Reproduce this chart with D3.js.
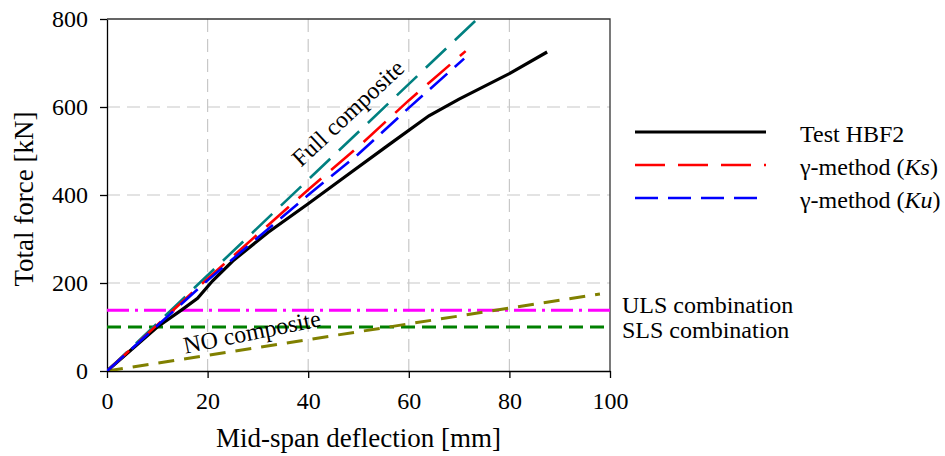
<!DOCTYPE html>
<html>
<head>
<meta charset="utf-8">
<script src="https://cdn.jsdelivr.net/npm/d3@7"></script>
<style>
body { margin: 0; background: #fff; }
</style>
</head>
<body>
<div id="chart-area"></div>
<script>
// values (deflection mm, force kN)
var testHBF2 = [[0, 0], [5, 50], [10, 100], [15, 140], [18, 165], [21, 205], [25, 250], [32, 315], [40, 380], [48, 447], [56, 514], [64, 580], [70, 618], [80, 676], [87.5, 725]];
var gammaKs = [[0, 0], [20, 210], [40, 412], [50, 510], [60, 615], [71.3, 727]];
var gammaKu = [[0, 0], [20, 206], [40, 400], [50, 493], [60, 598], [71, 710]];
var fullComposite = [[0, 0], [73.6, 800]];
var noComposite = [[0, 0], [98, 175]];
var ulsLoad = [[0, 138], [100, 138]];
var slsLoad = [[0, 100], [100, 100]];
var xTicks = [0, 20, 40, 60, 80, 100];
var yTicks = [0, 200, 400, 600, 800];
var legendNames = ["Test HBF2", "γ-method (", "γ-method ("];

var serif = '"Liberation Serif", "Times New Roman", Tinos, "DejaVu Serif", serif';

var margin = { top: 19, right: 335, bottom: 85, left: 107 };
var width = 945 - margin.left - margin.right;
var height = 456 - margin.top - margin.bottom;

var root = d3.select("#chart-area")
	.append("svg")
	.attr("width", 945)
	.attr("height", 456)
	.style("font-family", serif);

var svg = root.append("g")
	.attr("transform", "translate(" + margin.left + ", " + margin.top + ")");

var xScale = d3.scaleLinear().domain([0, 100]).range([0, width]);
var yScale = d3.scaleLinear().domain([0, 800]).range([height, 0]);

svg.append("clipPath").attr("id", "plot-clip")
	.append("rect").attr("width", width).attr("height", height);

// grid
svg.append("g").selectAll("line")
	.data(xTicks.filter(d => d > 0 && d < 100))
	.enter().append("line")
	.attr("x1", d => xScale(d)).attr("x2", d => xScale(d))
	.attr("y1", 0).attr("y2", height)
	.attr("stroke", "#c8c8c8").attr("stroke-width", 1.2)
	.attr("stroke-dasharray", "13,7");

svg.append("g").selectAll("line")
	.data(yTicks.filter(d => d > 0 && d < 800))
	.enter().append("line")
	.attr("x1", 0).attr("x2", width)
	.attr("y1", d => yScale(d)).attr("y2", d => yScale(d))
	.attr("stroke", "#c8c8c8").attr("stroke-width", 1.2)
	.attr("stroke-dasharray", "13,7");

// axes
var xAxisG = svg.append("g")
	.attr("transform", "translate(0," + height + ")")
	.call(d3.axisBottom(xScale).tickValues(xTicks).tickSize(7).tickSizeOuter(0).tickPadding(14));
var yAxisG = svg.append("g")
	.call(d3.axisLeft(yScale).tickValues(yTicks).tickSize(7).tickSizeOuter(0).tickPadding(12));

[xAxisG, yAxisG].forEach(g => {
	g.attr("font-family", null).attr("font-size", null);
	g.select(".domain").attr("stroke", "#000").attr("stroke-width", 1.3);
	g.selectAll(".tick line").attr("stroke", "#000").attr("stroke-width", 1.3);
	g.selectAll(".tick text").style("font-size", "24px")
		.style("font-family", serif).attr("fill", "#000");
});

// top and right border
svg.append("path")
	.attr("d", "M0,0H" + width + "V" + height)
	.attr("fill", "none").attr("stroke", "#333").attr("stroke-width", 1.3);

var line = d3.line().x(d => xScale(d[0])).y(d => yScale(d[1]));
var plot = svg.append("g").attr("clip-path", "url(#plot-clip)");

var series = [
	{ data: slsLoad, color: "#008000", width: 3, dash: "14,7" },
	{ data: ulsLoad, color: "#ff00ff", width: 3, dash: "22,6,3,6" },
	{ data: noComposite, color: "#808000", width: 3, dash: "16,10" },
	{ data: testHBF2, color: "#000000", width: 3.2, dash: null },
	{ data: fullComposite, color: "#008080", width: 2.6, dash: "28,12" },
	{ data: gammaKs, color: "#ff0000", width: 2.6, dash: "30,13" },
	{ data: gammaKu, color: "#0000ff", width: 2.6, dash: "23,10" }
];

plot.selectAll("path.series")
	.data(series)
	.enter().append("path")
	.attr("class", "series")
	.attr("d", d => line(d.data))
	.attr("fill", "none")
	.attr("stroke", d => d.color)
	.attr("stroke-width", d => d.width)
	.attr("stroke-dasharray", d => d.dash);

// annotations
svg.append("text")
	.attr("transform", "translate(" + (348 - margin.left) + "," + (113 - margin.top) + ") rotate(-43)")
	.attr("text-anchor", "middle").attr("dominant-baseline", "central")
	.style("font-size", "24px")
	.text("Full composite");

svg.append("text")
	.attr("transform", "translate(" + (252 - margin.left) + "," + (332 - margin.top) + ") rotate(-11.5)")
	.attr("text-anchor", "middle").attr("dominant-baseline", "central")
	.style("font-size", "24px")
	.text("NO composite");

root.append("text").attr("x", 622).attr("y", 313).style("font-size", "24px").text("ULS combination");
root.append("text").attr("x", 622).attr("y", 338).style("font-size", "24px").text("SLS combination");

// axis titles
root.append("text")
	.attr("x", margin.left + width / 2).attr("y", 447)
	.attr("text-anchor", "middle").style("font-size", "27px")
	.text("Mid-span deflection [mm]");

root.append("text")
	.attr("transform", "translate(33,199) rotate(-90)")
	.attr("text-anchor", "middle").style("font-size", "27px")
	.text("Total force [kN]");

// legend
var legendItems = [
	{ name: legendNames[0], italic: null, color: "#000000", width: 3.2, dash: null },
	{ name: legendNames[1], italic: "Ks", color: "#ff0000", width: 2.6, dash: "30,13" },
	{ name: legendNames[2], italic: "Ku", color: "#0000ff", width: 2.6, dash: "23,10" }
];
var legend = root.append("g");
legendItems.forEach((d, i) => {
	var y = 132 + i * 33;
	legend.append("line")
		.attr("x1", 635).attr("x2", 766)
		.attr("y1", y).attr("y2", y)
		.attr("stroke", d.color).attr("stroke-width", d.width)
		.attr("stroke-dasharray", d.dash);
	var t = legend.append("text").attr("x", 800).attr("y", y + 9.5).style("font-size", "24px");
	t.append("tspan").text(d.name);
	if (d.italic) {
		t.append("tspan").style("font-style", "italic").text(d.italic);
		t.append("tspan").text(")");
	}
});
</script>
</body>
</html>
